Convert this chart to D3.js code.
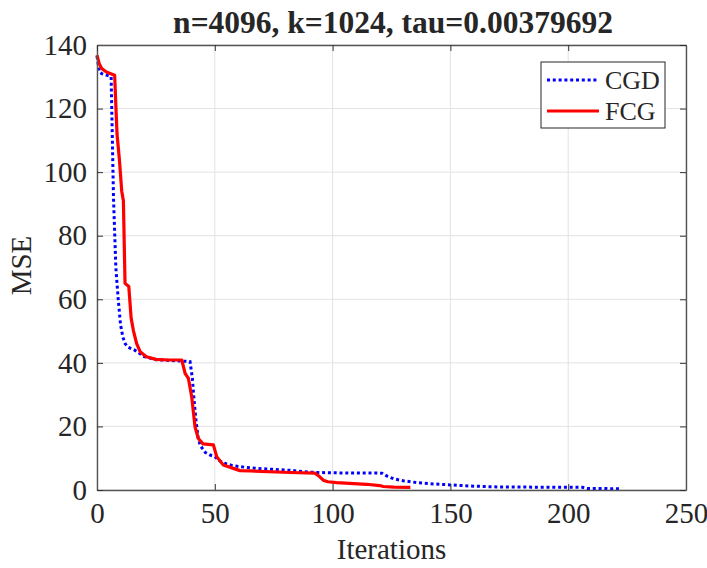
<!DOCTYPE html>
<html>
<head>
<meta charset="utf-8">
<script src="https://cdn.jsdelivr.net/npm/d3@7"></script>
<style>
  body { margin: 0; background: #fff; }
  text { font-family: "Liberation Serif", "Times New Roman", serif; fill: #262626; }
</style>
</head>
<body>
<div id="chart"></div>
<script>
// data
var cgd_iter = [0, 1, 2, 4, 6, 7, 8, 9, 10, 11, 12, 13, 16, 18, 20, 25, 30, 35, 39.5, 40.5, 41, 42, 43, 44, 46, 48, 50, 52, 54, 57, 61, 68, 75, 82, 90, 100, 121, 123, 126, 130, 136, 143, 150, 160, 171, 185, 200, 206, 208, 222];
var cgd_mse = [136.5, 131.5, 131, 130.5, 130, 92, 70, 60, 52, 48, 46, 45, 44, 43, 42, 41, 40.8, 40.6, 40.4, 35, 30, 22, 16, 13.8, 11.8, 11, 10.5, 9.2, 8.4, 7.8, 7.3, 6.8, 6.5, 6.2, 5.6, 5.4, 5.3, 4.4, 3.5, 2.9, 2.3, 1.9, 1.6, 1.2, 0.95, 0.9, 0.9, 0.85, 0.5, 0.4];

var fcg_iter = [0, 1, 2, 4, 7.5, 8, 8.5, 9.5, 10.5, 11.2, 11.9, 13.5, 14.5, 15.5, 16.8, 18.3, 21, 25, 30, 36, 37.4, 38.8, 40.2, 41.6, 43, 45, 49.4, 50.8, 53.6, 57.9, 60.7, 65, 82, 92.5, 94, 96, 98, 101.7, 114.5, 120, 121.5, 126, 133];
var fcg_mse = [136.8, 134, 132.6, 131.5, 130.5, 121, 112, 104, 94, 91, 65, 64, 54, 50, 46.1, 43.5, 41.9, 41.1, 40.9, 40.9, 36.7, 35.1, 29.3, 19.9, 16.2, 14.5, 14.2, 10.5, 7.9, 6.8, 6.1, 6.0, 5.5, 5.3, 4.5, 3.1, 2.6, 2.3, 1.8, 1.4, 1.1, 0.9, 0.8];

var x_ticks = [0, 50, 100, 150, 200, 250];
var y_ticks = [0, 20, 40, 60, 80, 100, 120, 140];
var legend_names = ["CGD", "FCG"];
var title_text = "n=4096, k=1024, tau=0.00379692";

var width = 707, height = 568;
var margin = { left: 97, right: 21, top: 45, bottom: 78 };
var w = width - margin.left - margin.right;
var h = height - margin.top - margin.bottom;

var svg = d3.select("#chart").append("svg")
  .attr("width", width)
  .attr("height", height);

var x = d3.scaleLinear().domain([0, 250]).range([margin.left, margin.left + w]);
var y = d3.scaleLinear().domain([0, 140]).range([margin.top + h, margin.top]);

// grid
var grid = svg.append("g");
grid.selectAll("line.gx").data(x_ticks).enter().append("line")
  .attr("x1", d => x(d)).attr("x2", d => x(d))
  .attr("y1", y(0)).attr("y2", y(140))
  .attr("stroke", "#e3e3e3").attr("stroke-width", 1);
grid.selectAll("line.gy").data(y_ticks).enter().append("line")
  .attr("x1", x(0)).attr("x2", x(250))
  .attr("y1", d => y(d)).attr("y2", d => y(d))
  .attr("stroke", "#e3e3e3").attr("stroke-width", 1);

// curves
var line = d3.line().x(d => x(d[0])).y(d => y(d[1]));
var cgd = cgd_iter.map((d, i) => [d, cgd_mse[i]]);
var fcg = fcg_iter.map((d, i) => [d, fcg_mse[i]]);

svg.append("path").datum(cgd)
  .attr("d", line).attr("fill", "none")
  .attr("stroke", "#0000ff").attr("stroke-width", 3)
  .attr("stroke-dasharray", "3,2.8");

svg.append("path").datum(fcg)
  .attr("d", line).attr("fill", "none")
  .attr("stroke", "#ff0000").attr("stroke-width", 3.2)
  .attr("stroke-linejoin", "round");

// axes, ticks inside like matlab
var xAxis = svg.append("g")
  .attr("transform", "translate(0," + y(0) + ")")
  .call(d3.axisBottom(x).tickValues(x_ticks).tickSizeInner(-6).tickSizeOuter(0).tickPadding(12));
var yAxis = svg.append("g")
  .attr("transform", "translate(" + x(0) + ",0)")
  .call(d3.axisLeft(y).tickValues(y_ticks).tickSizeInner(-6).tickSizeOuter(0).tickPadding(10));
var xTop = svg.append("g")
  .attr("transform", "translate(0," + y(140) + ")")
  .call(d3.axisTop(x).tickValues(x_ticks).tickSizeInner(-6).tickSizeOuter(0).tickFormat(""));
var yRight = svg.append("g")
  .attr("transform", "translate(" + x(250) + ",0)")
  .call(d3.axisRight(y).tickValues(y_ticks).tickSizeInner(-6).tickSizeOuter(0).tickFormat(""));

[xAxis, yAxis, xTop, yRight].forEach(function (g) {
  g.select(".domain").attr("stroke", "#555").attr("stroke-width", 1.4);
  g.selectAll(".tick line").attr("stroke", "#333").attr("stroke-width", 1);
  g.selectAll(".tick text")
    .style("font-family", "'Liberation Serif', serif")
    .style("font-size", "29px")
    .attr("fill", "#262626");
});

// labels
svg.append("text")
  .attr("x", 393).attr("y", 33)
  .attr("text-anchor", "middle")
  .style("font-size", "31.5px").style("font-weight", "bold")
  .attr("fill", "#000")
  .text(title_text);

svg.append("text")
  .attr("x", (x(0) + x(250)) / 2).attr("y", 559)
  .attr("text-anchor", "middle")
  .style("font-size", "29px")
  .text("Iterations");

svg.append("text")
  .attr("transform", "translate(31," + (y(70) - 2) + ") rotate(-90)")
  .attr("text-anchor", "middle")
  .style("font-size", "29px")
  .text("MSE");

// legend
var leg = svg.append("g");
leg.append("rect")
  .attr("x", 541).attr("y", 62).attr("width", 124).attr("height", 66)
  .attr("fill", "#fff").attr("stroke", "#262626").attr("stroke-width", 1);

var leg_styles = [
  { color: "#0000ff", dash: "3,2.8", yy: 80 },
  { color: "#ff0000", dash: null, yy: 111 }
];
legend_names.forEach(function (name, i) {
  var s = leg_styles[i];
  leg.append("line")
    .attr("x1", 547).attr("x2", 599)
    .attr("y1", s.yy).attr("y2", s.yy)
    .attr("stroke", s.color).attr("stroke-width", 3)
    .attr("stroke-dasharray", s.dash);
  leg.append("text")
    .attr("x", 605).attr("y", s.yy + 9)
    .style("font-size", "26px")
    .attr("fill", "#000")
    .text(name);
});
</script>
</body>
</html>
